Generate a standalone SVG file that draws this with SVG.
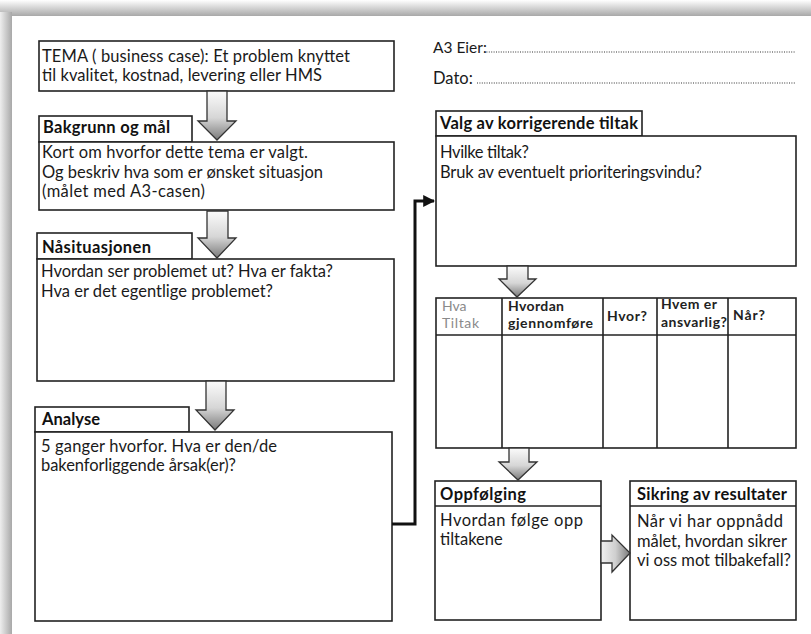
<svg xmlns="http://www.w3.org/2000/svg" width="811" height="634" viewBox="0 0 811 634">
<defs>
<linearGradient id="gTop" x1="0" y1="0" x2="0" y2="1"><stop offset="0" stop-color="#ffffff"/><stop offset="1" stop-color="#a8a8a8"/></linearGradient>
<linearGradient id="gLeft" x1="0" y1="0" x2="1" y2="0"><stop offset="0" stop-color="#eeeeee"/><stop offset="1" stop-color="#a8a8a8"/></linearGradient>
<linearGradient id="gDown" x1="0" y1="0" x2="0" y2="1"><stop offset="0" stop-color="#fbfbfb"/><stop offset="0.55" stop-color="#d6d6d6"/><stop offset="1" stop-color="#7a7a7a"/></linearGradient>
<linearGradient id="gRight" x1="0" y1="0" x2="1" y2="0"><stop offset="0" stop-color="#f0f0f0"/><stop offset="0.5" stop-color="#cfcfcf"/><stop offset="1" stop-color="#7a7a7a"/></linearGradient>
<marker id="mArr" viewBox="0 0 10 10" refX="9" refY="5" markerWidth="4" markerHeight="4" orient="auto" markerUnits="strokeWidth"><path d="M0,0 L10,5 L0,10 Z" fill="#111"/></marker>
</defs>
<style>
.box{fill:#fff;stroke:#222;stroke-width:1.6}
.ln{fill:none;stroke:#222;stroke-width:1.6}
.t{font-family:Lato,"Liberation Sans",sans-serif;font-size:16.5px;fill:#1a1a1a}
.b{font-family:Lato,"Liberation Sans",sans-serif;font-size:16.5px;font-weight:bold;fill:#111}
.h{font-family:Lato,"Liberation Sans",sans-serif;font-size:14px;font-weight:bold;fill:#222}
.dots{stroke:#333;stroke-width:1.2;stroke-dasharray:1 1.4}
.ad{fill:url(#gDown);stroke:#333;stroke-width:1.3}
.ar{fill:url(#gRight);stroke:#333;stroke-width:1.3}
</style>
<rect x="0" y="0" width="811" height="634" fill="#fff"/>
<rect x="0" y="0" width="811" height="16" fill="url(#gTop)"/>
<rect x="0" y="12" width="12" height="622" fill="url(#gLeft)"/>

<g id="tema">
<rect class="box" x="39" y="41" width="355" height="50"/>
<text class="t" x="42" y="62" textLength="308" lengthAdjust="spacing">TEMA ( business case): Et problem knyttet</text>
<text class="t" x="42" y="81" textLength="280" lengthAdjust="spacing">til kvalitet, kostnad, levering eller HMS</text>
</g>

<g id="bakgrunn">
<rect class="box" x="39" y="116" width="153" height="26"/>
<text class="b" x="43" y="133" textLength="127" lengthAdjust="spacing">Bakgrunn og mål</text>
<rect class="box" x="39" y="142" width="355" height="68"/>
<text class="t" x="42" y="158" textLength="266" lengthAdjust="spacing">Kort om hvorfor dette tema er valgt.</text>
<text class="t" x="42" y="178" textLength="281" lengthAdjust="spacing">Og beskriv hva som er ønsket situasjon</text>
<text class="t" x="42" y="197" textLength="163" lengthAdjust="spacing">(målet med A3-casen)</text>
</g>

<g id="naasituasjonen">
<rect class="box" x="37" y="233" width="155" height="26"/>
<text class="b" x="42" y="253" textLength="109" lengthAdjust="spacing">Nåsituasjonen</text>
<rect class="box" x="37" y="259" width="357" height="122"/>
<text class="t" x="41" y="277" textLength="292" lengthAdjust="spacing">Hvordan ser problemet ut? Hva er fakta?</text>
<text class="t" x="41" y="297" textLength="232" lengthAdjust="spacing">Hva er det egentlige problemet?</text>
</g>

<g id="analyse">
<rect class="box" x="35" y="407" width="154" height="25"/>
<text class="b" x="42" y="425" textLength="58" lengthAdjust="spacing">Analyse</text>
<rect class="box" x="35" y="432" width="357" height="189"/>
<text class="t" x="41" y="452" textLength="236" lengthAdjust="spacing">5 ganger hvorfor. Hva er den/de</text>
<text class="t" x="41" y="471" textLength="195" lengthAdjust="spacing">bakenforliggende årsak(er)?</text>
</g>

<g id="eier">
<text class="t" x="433" y="53" style="font-size:15.5px">A3 Eier:</text>
<line class="dots" x1="484" y1="52" x2="795" y2="52"/>
<text class="t" x="433" y="84">Dato:</text>
<line class="dots" x1="477" y1="83" x2="795" y2="83"/>
</g>

<g id="valg">
<rect class="box" x="436" y="111" width="206" height="25"/>
<text class="b" x="440" y="129" textLength="198" lengthAdjust="spacing">Valg av korrigerende tiltak</text>
<rect class="box" x="436" y="136" width="360" height="130"/>
<text class="t" x="440" y="158" textLength="89" lengthAdjust="spacing">Hvilke tiltak?</text>
<text class="t" x="440" y="178" textLength="262" lengthAdjust="spacing">Bruk av eventuelt prioriteringsvindu?</text>
</g>

<g id="tabell">
<rect class="box" x="436" y="298" width="360" height="150"/>
<line class="ln" x1="436" y1="335" x2="796" y2="335"/>
<line class="ln" x1="502" y1="298" x2="502" y2="448"/>
<line class="ln" x1="603" y1="298" x2="603" y2="448"/>
<line class="ln" x1="657" y1="298" x2="657" y2="448"/>
<line class="ln" x1="728" y1="298" x2="728" y2="448"/>
<text class="h" x="442" y="311" style="fill:#8a8a8a;font-weight:normal">Hva</text>
<text class="h" x="442" y="328" style="fill:#8a8a8a;font-weight:normal" textLength="37" lengthAdjust="spacing">Tiltak</text>
<text class="h" x="508" y="311" textLength="56" lengthAdjust="spacing">Hvordan</text>
<text class="h" x="508" y="328" textLength="85" lengthAdjust="spacing">gjennomføre</text>
<text class="h" x="607" y="321" textLength="40" lengthAdjust="spacing">Hvor?</text>
<text class="h" x="661" y="309" textLength="56" lengthAdjust="spacing">Hvem er</text>
<text class="h" x="661" y="327" textLength="66" lengthAdjust="spacing">ansvarlig?</text>
<text class="h" x="733" y="320" textLength="32" lengthAdjust="spacing">Når?</text>
</g>

<g id="oppfolging">
<rect class="box" x="435" y="481" width="166" height="139"/>
<line class="ln" x1="435" y1="506" x2="601" y2="506"/>
<text class="b" x="440" y="500" textLength="86" lengthAdjust="spacing">Oppfølging</text>
<text class="t" x="440" y="526" textLength="143" lengthAdjust="spacing">Hvordan følge opp</text>
<text class="t" x="440" y="545">tiltakene</text>
</g>

<g id="sikring">
<rect class="box" x="630" y="481" width="166" height="139"/>
<line class="ln" x1="630" y1="506" x2="796" y2="506"/>
<text class="b" x="637" y="500" textLength="150" lengthAdjust="spacing">Sikring av resultater</text>
<text class="t" x="637" y="527" textLength="146" lengthAdjust="spacing">Når vi har oppnådd</text>
<text class="t" x="637" y="547" textLength="150" lengthAdjust="spacing">målet, hvordan sikrer</text>
<text class="t" x="637" y="566" textLength="154" lengthAdjust="spacing">vi oss mot tilbakefall?</text>
</g>

<g id="connectors">
<path class="ad" d="M207,91 L227,91 L227,121 L236,121 L217,140 L198,121 L207,121 Z"/>
<path class="ad" d="M207,211 L228,211 L228,238 L236,238 L217,258 L198,238 L207,238 Z"/>
<path class="ad" d="M206,381 L226,381 L226,410 L234,410 L215,430 L196,410 L206,410 Z"/>
<path class="ad" d="M507,266 L528,266 L528,279 L536,279 L517,297 L499,279 L507,279 Z"/>
<path class="ad" d="M509,448 L529,448 L529,462 L537,462 L518,480 L499,462 L509,462 Z"/>
<path class="ar" d="M601,541 L612,541 L612,535 L630,553 L612,572 L612,563 L601,563 Z"/>
<polyline points="392,524 415,524 415,201 434,201" fill="none" stroke="#111" stroke-width="3" marker-end="url(#mArr)"/>
</g>
</svg>
